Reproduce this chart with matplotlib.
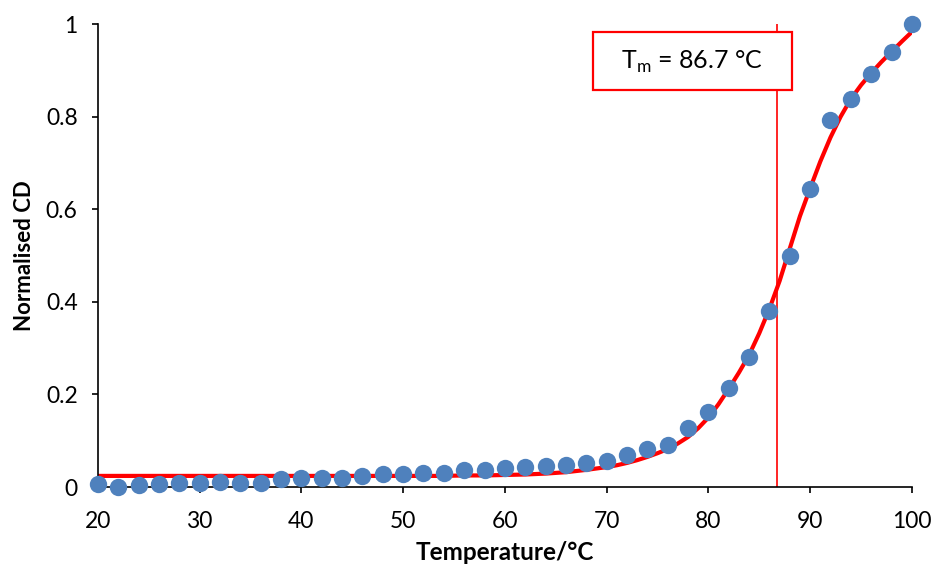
import matplotlib
matplotlib.use('Agg')
import matplotlib.pyplot as plt
from matplotlib.patches import Rectangle

plt.rcParams['font.family'] = ['Lato', 'DejaVu Sans']

# measured points (normalised CD)
temp = [20, 22, 24, 26, 28, 30, 32, 34, 36, 38, 40, 42, 44, 46, 48, 50, 52, 54, 56, 58,
        60, 62, 64, 66, 68, 70, 72, 74, 76, 78, 80, 82, 84, 86, 88, 90, 92, 94, 96, 98, 100]
cd = [0.007, 0.000, 0.004, 0.007, 0.009, 0.009, 0.011, 0.009, 0.009, 0.017, 0.019, 0.019,
      0.019, 0.024, 0.028, 0.028, 0.030, 0.030, 0.037, 0.037, 0.041, 0.043, 0.045, 0.048,
      0.052, 0.056, 0.069, 0.082, 0.091, 0.127, 0.162, 0.214, 0.281, 0.380, 0.499, 0.644,
      0.793, 0.838, 0.892, 0.940, 1.000]

# fitted curve
fit_temp = [20, 30, 40, 50, 54, 56, 58, 60, 62, 64, 66, 68,
            70, 71, 72, 73, 74, 75, 76, 77, 78, 79, 80, 81, 82, 83, 84, 85,
            86, 87, 88, 89, 90, 91, 92, 93, 94, 95, 96, 97, 98, 99, 100]
fit_cd = [0.024, 0.024, 0.024, 0.024, 0.024, 0.025, 0.025, 0.026, 0.027, 0.029, 0.032, 0.037,
          0.043, 0.047, 0.052, 0.058, 0.065, 0.073, 0.082, 0.094, 0.108, 0.127, 0.150, 0.179,
          0.212, 0.247, 0.285, 0.332, 0.385, 0.445, 0.515, 0.585, 0.645, 0.703, 0.755, 0.800,
          0.838, 0.868, 0.894, 0.918, 0.940, 0.962, 0.983]

tm = 86.7

fig = plt.figure(figsize=(9.32, 5.64), dpi=100)
ax = fig.add_axes([0.105, 0.1365, 0.8734, 0.8209])

ax.plot(fit_temp, fit_cd, color='#ff0000', lw=3, zorder=2)
ax.plot([tm, tm], [0, 1], color='#ff0000', lw=1.2, zorder=1)
ax.plot(temp, cd, 'o', color='#4f81bd', ms=12.5, mec='none', zorder=3, clip_on=False)

box = Rectangle((68.65, 0.857), 19.55, 0.126, facecolor='white', edgecolor='#ff0000',
                lw=1.6, zorder=4, clip_on=False)
ax.add_patch(box)
ax.text(78.4, 0.918, r'T$_\mathregular{m}$ = 86.7 °C', fontsize=18, ha='center', va='center', zorder=5)

ax.set_xlim(20, 100)
ax.set_ylim(0, 1)
ax.set_xticks([20, 30, 40, 50, 60, 70, 80, 90, 100])
ax.set_yticks([0, 0.2, 0.4, 0.6, 0.8, 1.0])
ax.set_yticklabels(['0', '0.2', '0.4', '0.6', '0.8', '1'])

for s in ['top', 'right']:
    ax.spines[s].set_visible(False)
for s in ['left', 'bottom']:
    ax.spines[s].set_linewidth(1.2)
ax.tick_params(direction='out', length=4, width=1.2, labelsize=16.5)
ax.tick_params(axis='x', pad=13)
ax.tick_params(axis='y', pad=10.5)

ax.set_xlabel('Temperature/°C', fontsize=17.5, fontweight='bold', labelpad=6.5)
ax.set_ylabel('Normalised CD', fontsize=16, fontweight='bold', labelpad=8)

fig.savefig('out.png', dpi=100)
